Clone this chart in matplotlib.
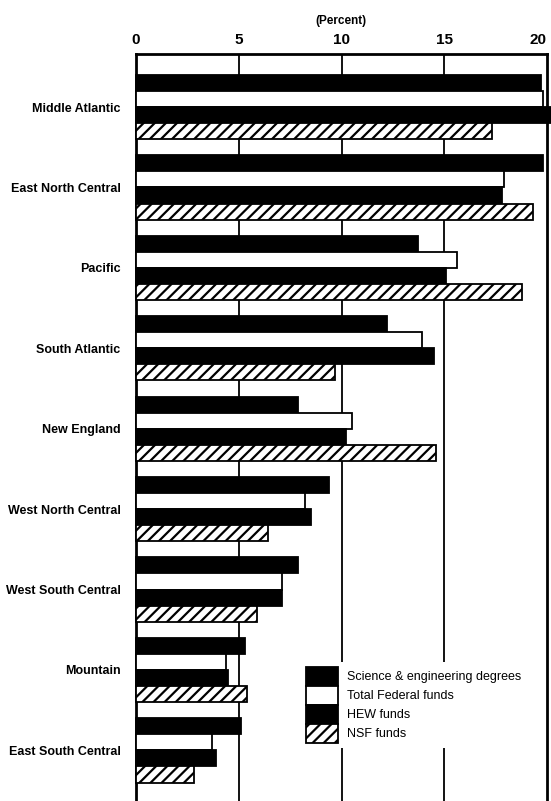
import numpy as np
import matplotlib.pyplot as plt
from matplotlib.patches import Patch

plt.rcParams['font.family'] = ['Liberation Sans', 'DejaVu Sans']
plt.rcParams['hatch.linewidth'] = 1.6

# regional shares, percent of U.S. total
regions = ['Middle Atlantic', 'East North Central', 'Pacific', 'South Atlantic',
           'New England', 'West North Central', 'West South Central',
           'Mountain', 'East South Central']
se_degrees = [19.7, 19.8, 13.7, 12.2, 7.9, 9.4, 7.9, 5.3, 5.1]
total_federal = [19.8, 17.9, 15.6, 13.9, 10.5, 8.2, 7.1, 4.4, 3.7]
hew_funds = [20.4, 17.8, 15.1, 14.5, 10.2, 8.5, 7.1, 4.5, 3.9]
nsf_funds = [17.3, 19.3, 18.8, 9.7, 14.6, 6.4, 5.9, 5.4, 2.8]

series = ['Science & engineering degrees', 'Total Federal funds', 'HEW funds', 'NSF funds']
faces = ['black', 'white', 'black', 'white']
hatches = [None, None, None, '///']

fig = plt.figure(figsize=(5.51, 8.01), dpi=100)
ax = fig.add_axes([136/551, 0.0, 411/551, 1 - 54/801])

y = np.arange(len(regions))
h = 0.2
for j, vals in enumerate([se_degrees, total_federal, hew_funds, nsf_funds]):
    ax.barh(y + (j - 1.5) * h, vals, height=h, color=faces[j], edgecolor='black',
            linewidth=1.3, hatch=hatches[j], zorder=3, clip_on=False)

ax.set_xlim(0, 20)
ax.set_ylim(8.63, -0.66)
ax.set_xticks([0, 5, 10, 15, 20])
ax.xaxis.tick_top()
ax.tick_params(axis='x', length=0, pad=5, labelsize=11)
for t in ax.get_xticklabels():
    t.set_fontweight('bold')
ax.get_xticklabels()[-1].set_horizontalalignment('right')
ax.set_yticks(y)
ax.set_yticklabels(regions, fontsize=9, fontweight='bold')
ax.tick_params(axis='y', length=0, pad=11)

for x in [5, 10, 15]:
    ax.axvline(x, color='black', linewidth=1.3, zorder=1)
for s in ['top', 'left', 'right']:
    ax.spines[s].set_linewidth(2)
ax.spines['bottom'].set_visible(False)

fig.text(341/551, 1 - 21/801, '(Percent)', ha='center', va='center',
         fontsize=8.5, fontweight='bold')

handles = [Patch(facecolor=faces[j], edgecolor='black', hatch=hatches[j], linewidth=1.3)
           for j in range(4)]
leg = ax.legend(handles, series, loc='upper left',
                bbox_to_anchor=(301/551, 1 - 662/801), bbox_transform=fig.transFigure,
                fontsize=9, frameon=True, fancybox=False, framealpha=1,
                edgecolor='none', facecolor='white', borderpad=0.4,
                labelspacing=0, handlelength=2.55, handleheight=1.95,
                handletextpad=0.7, borderaxespad=0)
leg.set_zorder(5)

fig.savefig('out.png', dpi=100)
